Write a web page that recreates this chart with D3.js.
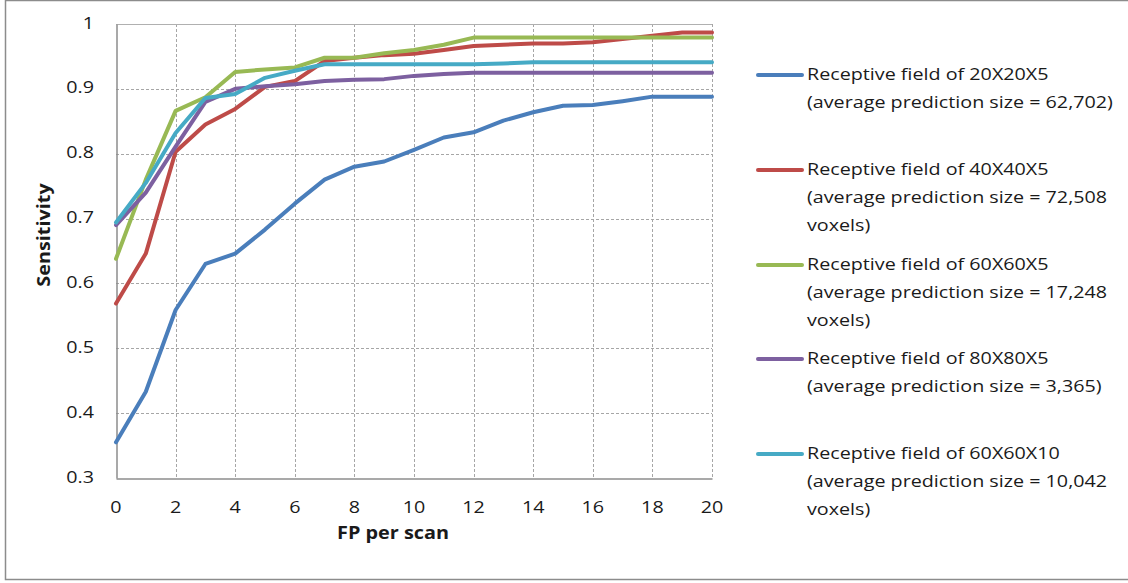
<!DOCTYPE html>
<html>
<head>
<meta charset="utf-8">
<script src="https://cdn.jsdelivr.net/npm/d3@7"></script>
<style>
  html, body { margin: 0; padding: 0; background: #fff; }
  svg { display: block; }
  text { font-family: "Open Sans", Lato, sans-serif; fill: #1a1a1a; }
</style>
</head>
<body>
<svg id="chart" width="1128" height="583"></svg>
<script>
// ---- data ----
const fpPerScan = [0,1,2,3,4,5,6,7,8,9,10,11,12,13,14,15,16,17,18,19,20];
const rf20x20x5 = [0.355,0.433,0.559,0.630,0.646,0.683,0.723,0.760,0.780,0.788,0.806,0.825,0.833,0.851,0.864,0.874,0.875,0.881,0.888,0.888,0.888];
const rf40x40x5 = [0.569,0.646,0.803,0.845,0.869,0.903,0.912,0.943,0.948,0.952,0.954,0.960,0.966,0.968,0.970,0.970,0.972,0.977,0.982,0.987,0.987];
const rf60x60x5 = [0.638,0.760,0.866,0.887,0.926,0.930,0.933,0.948,0.948,0.955,0.960,0.968,0.979,0.979,0.979,0.979,0.979,0.979,0.979,0.979,0.979];
const rf80x80x5 = [0.690,0.740,0.811,0.880,0.900,0.904,0.907,0.912,0.914,0.915,0.920,0.923,0.925,0.925,0.925,0.925,0.925,0.925,0.925,0.925,0.925];
const rf60x60x10 = [0.694,0.755,0.832,0.886,0.892,0.917,0.928,0.938,0.938,0.938,0.938,0.938,0.938,0.939,0.941,0.941,0.941,0.941,0.941,0.941,0.941];

const xTicks = [0,2,4,6,8,10,12,14,16,18,20];
const yTicks = [0.3,0.4,0.5,0.6,0.7,0.8,0.9,1];
const yTickLabels = ["0.3","0.4","0.5","0.6","0.7","0.8","0.9","1"];

const seriesNames = [
  ["Receptive field of 20X20X5", "(average prediction size = 62,702)"],
  ["Receptive field of 40X40X5", "(average prediction size = 72,508", "voxels)"],
  ["Receptive field of 60X60X5", "(average prediction size = 17,248", "voxels)"],
  ["Receptive field of 80X80X5", "(average prediction size = 3,365)"],
  ["Receptive field of 60X60X10", "(average prediction size = 10,042", "voxels)"]
];
const seriesValues = [rf20x20x5, rf40x40x5, rf60x60x5, rf80x80x5, rf60x60x10];
const seriesColors = ["#4a7ebb", "#be4b48", "#98b954", "#7d60a0", "#46aac5"];

// ---- layout ----
const svg = d3.select("#chart");
const W = 1128, H = 583;
const plot = { left: 116, right: 712, top: 24, bottom: 478 };
const FS = 17;

// horizontal calibration of the substitute font (reference is wider per height)
function measure(str, bold) {
  const t = svg.append("text").style("font-size", FS + "px")
    .style("font-weight", bold ? "bold" : "normal").text(str);
  const w = t.node().getComputedTextLength();
  t.remove();
  return w;
}
const sxN = 306 / measure("(average prediction size = 62,702)", false);
const sxB = 112 / measure("FP per scan", true);

function addText(parent, str, px, py, opts = {}) {
  const sx = opts.bold ? sxB : sxN;
  const rot = opts.rotate ? " rotate(-90)" : "";
  return parent.append("text")
    .attr("transform", `translate(${px},${py})${rot} scale(${sx},1)`)
    .attr("text-anchor", opts.anchor || "start")
    .attr("dominant-baseline", "middle")
    .style("font-size", FS + "px")
    .style("font-weight", opts.bold ? "bold" : "normal")
    .text(str);
}

// outer border (left, top, bottom visible)
svg.append("rect")
  .attr("x", 5.5).attr("y", 0.5)
  .attr("width", W + 10).attr("height", 579)
  .attr("fill", "none").attr("stroke", "#8c8c8c").attr("stroke-width", 1.5);

const x = d3.scaleLinear().domain([0, 20]).range([plot.left, plot.right]);
const y = d3.scaleLinear().domain([0.3, 1]).range([plot.bottom, plot.top]);

// grid
const grid = svg.append("g");
grid.selectAll("line.h").data(yTicks.filter(d => d > 0.3 && d < 1)).join("line")
  .attr("x1", plot.left).attr("x2", plot.right)
  .attr("y1", d => Math.round(y(d)) + 0.5).attr("y2", d => Math.round(y(d)) + 0.5)
  .attr("stroke", "#a6a6a6").attr("stroke-width", 1).attr("stroke-dasharray", "3,2");
grid.selectAll("line.v").data(xTicks.filter(d => d > 0)).join("line")
  .attr("x1", d => Math.round(x(d)) + 0.5).attr("x2", d => Math.round(x(d)) + 0.5)
  .attr("y1", plot.top).attr("y2", plot.bottom)
  .attr("stroke", "#a6a6a6").attr("stroke-width", 1).attr("stroke-dasharray", "3,2");
// plot top border
grid.append("line")
  .attr("x1", plot.left).attr("x2", plot.right)
  .attr("y1", Math.round(y(1)) + 0.5).attr("y2", Math.round(y(1)) + 0.5)
  .attr("stroke", "#b0b0b0").attr("stroke-width", 1.2);

// axes (domain lines via d3 axes, labels drawn as calibrated text)
const xAxis = d3.axisBottom(x).tickValues(xTicks).tickSize(0).tickFormat("");
const gx = svg.append("g").attr("transform", `translate(0,${plot.bottom + 0.5})`).call(xAxis);
gx.select(".domain").attr("stroke", "#8c8c8c").attr("stroke-width", 1.5);
const yAxis = d3.axisLeft(y).tickValues(yTicks).tickSize(0).tickFormat("");
const gy = svg.append("g").attr("transform", `translate(${plot.left + 0.5},0)`).call(yAxis);
gy.select(".domain").attr("stroke", "#8c8c8c").attr("stroke-width", 1.5);

const tl = svg.append("g");
xTicks.forEach(v => addText(tl, d3.format("d")(v), x(v), 508, { anchor: "middle" }));
yTicks.forEach((v, i) => addText(tl, yTickLabels[i], 94, y(v), { anchor: "end" }));

// lines
const line = d3.line().x((d, i) => x(fpPerScan[i])).y(d => y(d));
svg.append("g").selectAll("path").data(seriesValues).join("path")
  .attr("d", d => line(d))
  .attr("fill", "none")
  .attr("stroke", (d, i) => seriesColors[i])
  .attr("stroke-width", 4)
  .attr("stroke-linejoin", "round")
  .attr("stroke-linecap", "round");

// axis titles
addText(svg, "FP per scan", 393, 534, { anchor: "middle", bold: true });
addText(svg, "Sensitivity", 45, 235, { anchor: "middle", bold: true, rotate: true });

// legend
const legendY = [75, 170, 265, 359, 454];
const leg = svg.append("g");
seriesNames.forEach((lines, i) => {
  const g = leg.append("g");
  g.append("line")
    .attr("x1", 758).attr("x2", 802)
    .attr("y1", legendY[i]).attr("y2", legendY[i])
    .attr("stroke", seriesColors[i]).attr("stroke-width", 4).attr("stroke-linecap", "round");
  lines.forEach((t, j) => addText(g, t, 807, legendY[i] + j * 28.3));
});
</script>
</body>
</html>
